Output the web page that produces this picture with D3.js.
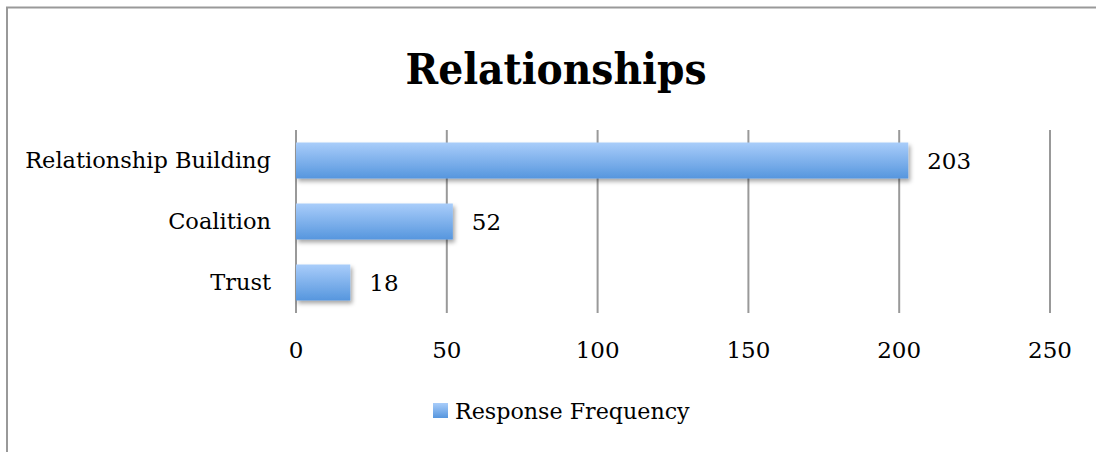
<!DOCTYPE html>
<html>
<head>
<meta charset="utf-8">
<script src="https://cdn.jsdelivr.net/npm/d3@7"></script>
<style>
  body { margin: 0; background: #fff; }
  svg { display: block; font-family: "DejaVu Serif", serif; }
</style>
</head>
<body>
<div class="app"></div>
<script>
// Data
const categories = ['Relationship Building', 'Coalition', 'Trust'];
const values = [203, 52, 18];
const xTicks = [0, 50, 100, 150, 200, 250];
const seriesName = 'Response Frequency';
const title = 'Relationships';

// Setup
const width = 1096;
const height = 452;
const margin = { left: 296, right: 46, top: 130, bottom: 139 };

const svg = d3.select('.app')
  .append('svg')
  .attr('width', width)
  .attr('height', height)
  .attr('viewBox', [0, 0, width, height]);

const defs = svg.append('defs');
const grad = defs.append('linearGradient')
  .attr('id', 'barGrad')
  .attr('x1', 0).attr('y1', 0).attr('x2', 0).attr('y2', 1);
grad.append('stop').attr('offset', '0%').attr('stop-color', '#a9cdfa');
grad.append('stop').attr('offset', '100%').attr('stop-color', '#5696de');

const shadow = defs.append('filter')
  .attr('id', 'shadow')
  .attr('x', '-10%').attr('y', '-20%').attr('width', '130%').attr('height', '160%');
shadow.append('feDropShadow')
  .attr('dx', 2).attr('dy', 3).attr('stdDeviation', 2)
  .attr('flood-color', '#000').attr('flood-opacity', 0.35);

// Frame
svg.append('path')
  .attr('d', `M7,${height} V7.5 H${width}`)
  .attr('fill', 'none')
  .attr('stroke', '#999')
  .attr('stroke-width', 2);

// Title
svg.append('text')
  .attr('x', 556)
  .attr('y', 84)
  .attr('text-anchor', 'middle')
  .attr('font-weight', 'bold')
  .attr('font-size', 42)
  .attr('textLength', 301)
  .attr('lengthAdjust', 'spacingAndGlyphs')
  .text(title);

// Scales
const x = d3.scaleLinear()
  .domain([0, 250])
  .range([margin.left, width - margin.right]);

const y = d3.scaleBand()
  .domain(categories)
  .range([margin.top, height - margin.bottom])
  .paddingInner(0.41)
  .paddingOuter(0.205);

// Gridlines
svg.append('g')
  .attr('stroke', '#999')
  .attr('stroke-width', 2)
  .selectAll('line')
  .data(xTicks)
  .join('line')
  .attr('x1', d => x(d)).attr('x2', d => x(d))
  .attr('y1', margin.top).attr('y2', height - margin.bottom);

// Tick labels
svg.append('g')
  .attr('font-size', 23)
  .attr('text-anchor', 'middle')
  .selectAll('text')
  .data(xTicks)
  .join('text')
  .attr('x', d => x(d))
  .attr('y', 358)
  .text(d => d);

// Bars
svg.append('g')
  .selectAll('rect')
  .data(values)
  .join('rect')
  .attr('x', x(0))
  .attr('y', (d, i) => y(categories[i]))
  .attr('width', d => x(d) - x(0))
  .attr('height', y.bandwidth())
  .attr('fill', 'url(#barGrad)')
  .attr('filter', 'url(#shadow)');

// Category labels
svg.append('g')
  .attr('font-size', 22.5)
  .attr('text-anchor', 'end')
  .selectAll('text')
  .data(categories)
  .join('text')
  .attr('x', 271)
  .attr('y', d => y(d) + y.bandwidth() / 2)
  .attr('dy', '0.35em')
  .text(d => d);

// Value labels
svg.append('g')
  .attr('font-size', 23)
  .selectAll('text')
  .data(values)
  .join('text')
  .attr('x', d => x(d) + 19)
  .attr('y', (d, i) => y(categories[i]) + y.bandwidth() / 2)
  .attr('dy', '0.35em')
  .text(d => d);

// Legend
const legend = svg.append('g');
legend.append('rect')
  .attr('x', 433).attr('y', 403)
  .attr('width', 15).attr('height', 15)
  .attr('fill', 'url(#barGrad)');
legend.append('text')
  .attr('x', 455)
  .attr('y', 419)
  .attr('font-size', 22.2)
  .text(seriesName);
</script>
</body>
</html>
